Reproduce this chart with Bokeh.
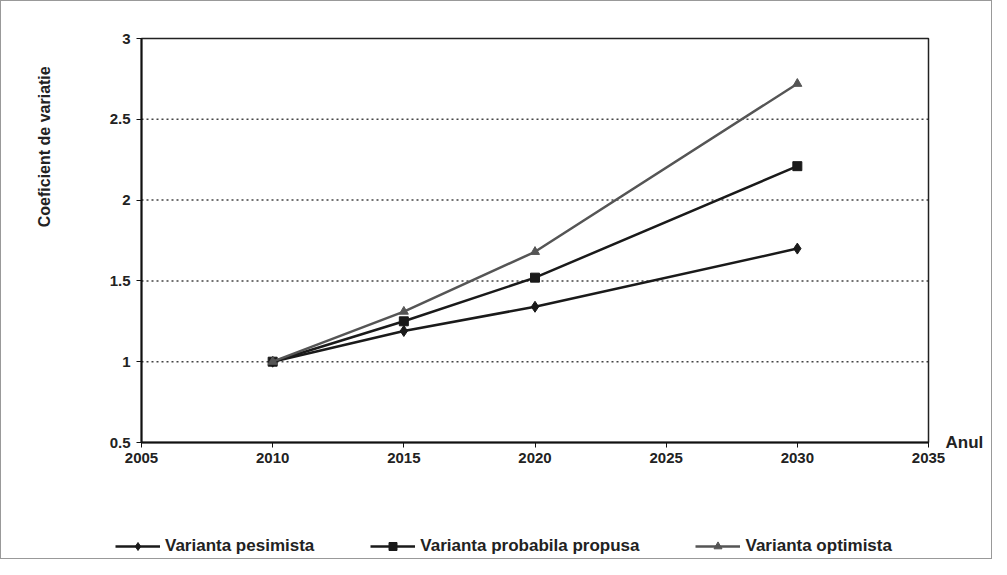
import math
from bokeh.plotting import figure
from bokeh.models import (Range1d, Legend, LegendItem, FixedTicker, LinearAxis, Label,
                          BoxAnnotation)
from bokeh.embed import file_html
from bokeh.resources import INLINE

# ---- data ----
years = [2010, 2015, 2020, 2030]
pesimista = [1.0, 1.19, 1.34, 1.70]
probabila = [1.0, 1.25, 1.52, 2.21]
optimista = [1.0, 1.31, 1.68, 2.72]
series_names = ["Varianta pesimista", "Varianta probabila propusa", "Varianta optimista"]
x_ticks = [2005, 2010, 2015, 2020, 2025, 2030, 2035]
y_ticks = [0.5, 1, 1.5, 2, 2.5, 3]
grid_values = [1, 1.5, 2, 2.5]
y_title = "Coeficient de variatie"
x_title = "Anul"

# ---- layout (pixels) ----
W, H = 992, 559
BOX_L, BOX_R, BOX_T, BOX_B = 140, 927, 37, 441
x0, x1 = x_ticks[0], x_ticks[-1]
y0, y1 = y_ticks[0], y_ticks[-1]
xs = (x1 - x0) / (BOX_R - BOX_L)
ys = (y1 - y0) / (BOX_B - BOX_T)

FONT = "Liberation Sans"
TXT = "#222222"

p = figure(width=W, height=H, output_backend="svg", toolbar_location=None,
           x_axis_type=None, y_axis_type=None,
           x_range=Range1d(x0 - BOX_L * xs, x1 + (W - BOX_R) * xs),
           y_range=Range1d(y0 - (H - BOX_B) * ys, y1 + BOX_T * ys),
           min_border=0)
p.styles = {"border": "1px solid #999"}
p.background_fill_color = "white"
p.outline_line_color = None

def style_axis(ax, standoff):
    ax.axis_line_color = "#111"
    ax.axis_line_width = 2
    ax.major_tick_line_color = "#111"
    ax.major_tick_in = 0
    ax.major_tick_out = 5
    ax.minor_tick_line_color = None
    ax.major_label_text_font = FONT
    ax.major_label_text_font_style = "bold"
    ax.major_label_text_font_size = "15px"
    ax.major_label_text_color = TXT
    ax.major_label_standoff = standoff

xaxis = LinearAxis(fixed_location=y0, bounds=(x0, x1), ticker=FixedTicker(ticks=x_ticks))
style_axis(xaxis, 5)
p.add_layout(xaxis, "below")
yaxis = LinearAxis(fixed_location=x0, bounds=(y0, y1), ticker=FixedTicker(ticks=y_ticks))
style_axis(yaxis, 6)
p.add_layout(yaxis, "left")

# plot-area box
p.add_layout(BoxAnnotation(left=x0, right=x1, bottom=y0, top=y1, fill_alpha=0,
                           line_color="#222", line_alpha=1.0, line_width=1.5, level="underlay"))
# dotted horizontal gridlines inside the box
p.segment(x0=[x0] * len(grid_values), x1=[x1] * len(grid_values), y0=grid_values, y1=grid_values,
          line_color="#444", line_dash="2 3", line_width=1.5, level="underlay")

r1 = p.line(years, pesimista, line_color="#1a1a1a", line_width=2.5)
m1 = p.scatter(years, pesimista, marker="diamond", size=11, fill_color="#1a1a1a", line_color="#1a1a1a")
r2 = p.line(years, probabila, line_color="#1a1a1a", line_width=2.5)
m2 = p.scatter(years, probabila, marker="square", size=9, fill_color="#1a1a1a", line_color="#1a1a1a")
r3 = p.line(years, optimista, line_color="#555555", line_width=2.5)
m3 = p.scatter(years, optimista, marker="triangle", size=9, fill_color="#555555", line_color="#555555")

legend = Legend(items=[LegendItem(label=series_names[0], renderers=[r1, m1]),
                       LegendItem(label=series_names[1], renderers=[r2, m2]),
                       LegendItem(label=series_names[2], renderers=[r3, m3])],
                orientation="horizontal", location=(114, 4),
                label_text_font=FONT, label_text_font_style="bold", label_text_font_size="17px",
                label_text_color=TXT, glyph_width=45, spacing=56, border_line_color=None,
                background_fill_alpha=0, margin=0, padding=5)
p.add_layout(legend, "center")

p.add_layout(Label(x=x1, y=y0, x_offset=17, text=x_title, text_font=FONT, text_font_style="bold",
                   text_font_size="17px", text_baseline="middle", text_color=TXT))
p.add_layout(Label(x=x0, y=2.33, x_offset=-97, text=y_title, text_font=FONT, text_font_style="bold",
                   text_font_size="16px", text_align="center", text_baseline="middle",
                   angle=math.pi / 2, text_color=TXT))

open("out.html", "w").write(file_html(p, INLINE))
